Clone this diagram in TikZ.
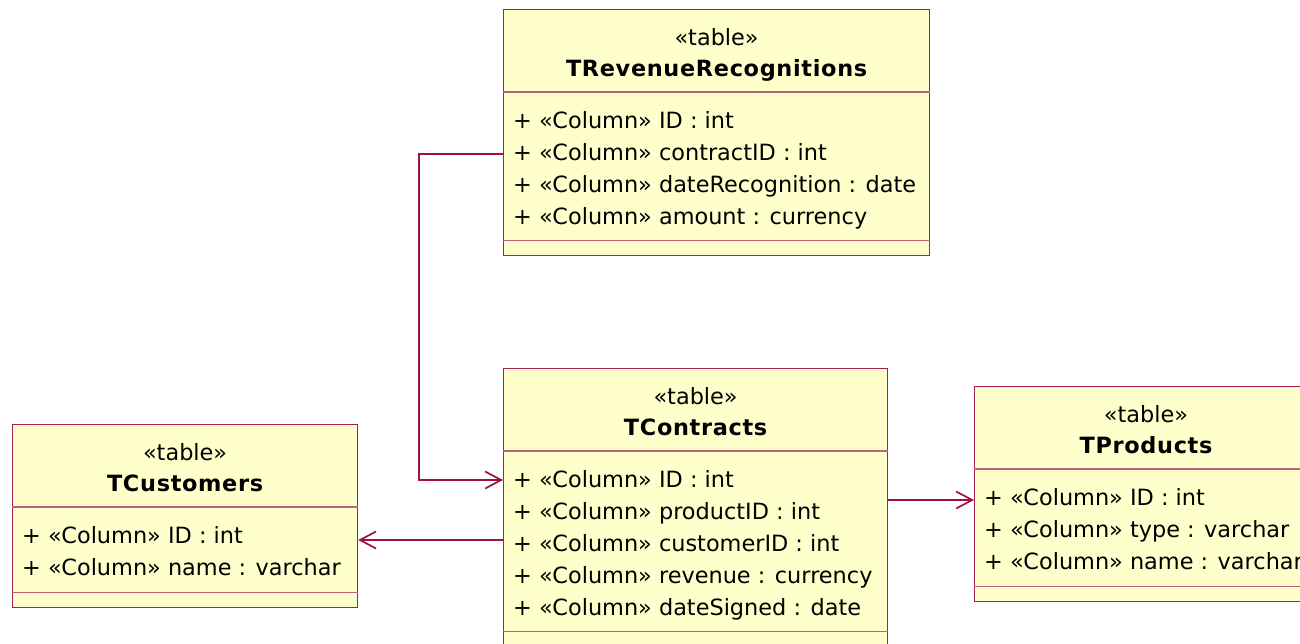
\documentclass[tikz,border=0pt]{standalone}
\usepackage{fontspec}
\setmainfont{DejaVu Sans}
\usetikzlibrary{arrows.meta}
\usetikzlibrary{calc}

\definecolor{tablefill}{HTML}{FFFFCC}
\definecolor{tableline}{HTML}{A8204E}
\definecolor{sepline}{HTML}{C0607A}
\definecolor{linkline}{HTML}{A01040}

\tikzset{
  tablebox/.style={draw=tableline,line width=1.2pt,fill=tablefill,anchor=north west,inner sep=0pt},
  tablesep/.style={draw=sepline,line width=1.2pt},
  stereo/.style={anchor=base,inner sep=0pt,font=\fontsize{22.4}{26}\selectfont},
  tname/.style={anchor=base,inner sep=0pt,font=\fontsize{22.4}{26}\selectfont\bfseries\addfontfeatures{LetterSpace=3}},
  attr/.style={anchor=base west,inner sep=0pt,font=\fontsize{22.4}{26}\selectfont},
  link/.style={draw=linkline,line width=1.7pt,-{Straight Barb[length=16pt,width=17pt]}}
}

\begin{document}
\begin{tikzpicture}[x=1pt,y=-1pt]
\clip (0,0) rectangle (1300,643);

% TRevenueRecognitions
\node[tablebox,minimum width=426pt,minimum height=246pt] (rev) at (503,9) {};
\draw[tablesep] ($(rev.north west)+(0,83)$) -- ($(rev.north east)+(0,83)$);
\draw[tablesep] ($(rev.south west)+(0,-16)$) -- ($(rev.south east)+(0,-16)$);
\node[stereo] (rev-st) at ($(rev.north)+(0,36)$) {«table»};
\node[tname] (rev-nm) at ($(rev.north)+(0,67)$) {TRevenueRecognitions};
\foreach \t [count=\i] in {ID : int,contractID : int,dateRecognition : date,amount : currency}
  \node[attr] (rev-\i) at ($(rev.north west)+(10,87+32*\i)$) {+ «Column» \t};

% TContracts
\node[tablebox,minimum width=384pt,minimum height=278pt] (con) at (503,368) {};
\draw[tablesep] ($(con.north west)+(0,83)$) -- ($(con.north east)+(0,83)$);
\draw[tablesep] ($(con.south west)+(0,-16)$) -- ($(con.south east)+(0,-16)$);
\node[stereo] (con-st) at ($(con.north)+(0,36)$) {«table»};
\node[tname] (con-nm) at ($(con.north)+(0,67)$) {TContracts};
\foreach \t [count=\i] in {ID : int,productID : int,customerID : int,revenue : currency,dateSigned : date}
  \node[attr] (con-\i) at ($(con.north west)+(10,87+32*\i)$) {+ «Column» \t};

% TCustomers
\node[tablebox,minimum width=345pt,minimum height=183pt] (cust) at (12,424) {};
\draw[tablesep] ($(cust.north west)+(0,83)$) -- ($(cust.north east)+(0,83)$);
\draw[tablesep] ($(cust.south west)+(0,-16)$) -- ($(cust.south east)+(0,-16)$);
\node[stereo] (cust-st) at ($(cust.north)+(0,36)$) {«table»};
\node[tname] (cust-nm) at ($(cust.north)+(0,67)$) {TCustomers};
\foreach \t [count=\i] in {ID : int,name : varchar}
  \node[attr] (cust-\i) at ($(cust.north west)+(10,87+32*\i)$) {+ «Column» \t};

% TProducts
\node[tablebox,minimum width=340pt,minimum height=215pt] (prod) at (974,386) {};
\draw[tablesep] ($(prod.north west)+(0,83)$) -- ($(prod.north east)+(0,83)$);
\draw[tablesep] ($(prod.south west)+(0,-16)$) -- ($(prod.south east)+(0,-16)$);
\node[stereo] (prod-st) at ($(prod.north west)+(172,36)$) {«table»};
\node[tname] (prod-nm) at ($(prod.north west)+(172,67)$) {TProducts};
\foreach \t [count=\i] in {ID : int,type : varchar,name : varchar}
  \node[attr] (prod-\i) at ($(prod.north west)+(10,87+32*\i)$) {+ «Column» \t};

% links
\coordinate (rev-out) at ($(rev.north west)+(0,145)$);
\coordinate (con-in) at ($(con.north west)+(0,112)$);
\coordinate (con-cust) at ($(con.north west)+(0,172)$);
\coordinate (con-prod) at ($(con.north east)+(0,132)$);
\draw[link] (rev-out) -- ++(-84,0) |- (con-in);
\draw[link] (con-cust) -- (con-cust -| cust.east);
\draw[link] (con-prod) -- (con-prod -| prod.west);
\end{tikzpicture}
\end{document}
